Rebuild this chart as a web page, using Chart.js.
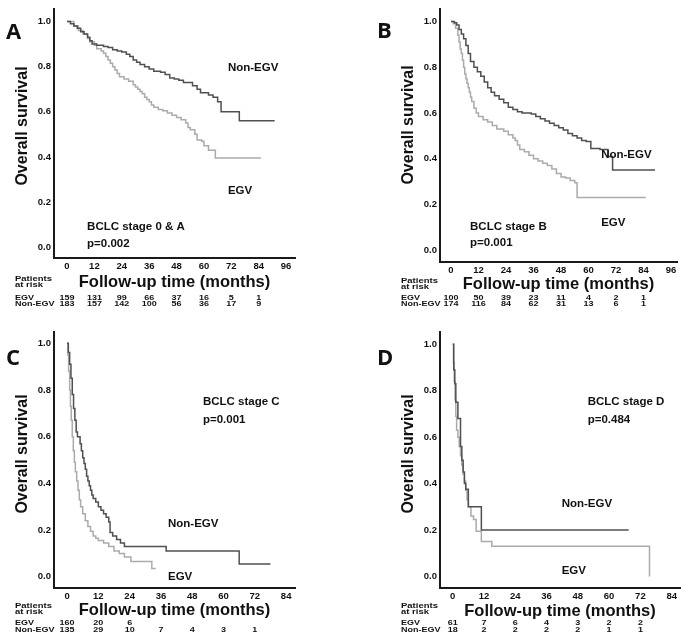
<!DOCTYPE html>
<html>
<head>
<meta charset="utf-8">
<title>Overall survival by BCLC stage</title>
<script src="https://cdn.jsdelivr.net/npm/chart.js@4.4.0/dist/chart.umd.min.js"></script>
<style>
  body { margin: 0; background: #fff; }
  #wrap { position: relative; width: 685px; height: 641px; }
  canvas { position: absolute; }
  #panelA { left: 0; top: 0; }
  #panelB { left: 340px; top: 0; }
  #panelC { left: 0; top: 320px; }
  #panelD { left: 340px; top: 320px; }
</style>
</head>
<body>
<div id="wrap">
  <canvas id="panelA" width="340" height="320"></canvas>
  <canvas id="panelB" width="345" height="320"></canvas>
  <canvas id="panelC" width="340" height="321"></canvas>
  <canvas id="panelD" width="345" height="321"></canvas>
</div>
<script>
'use strict';

// tick labels
let monthTicksAB = [0, 12, 24, 36, 48, 60, 72, 84, 96];
let monthTicksCD = [0, 12, 24, 36, 48, 60, 72, 84];
let survTicks = [0, 0.2, 0.4, 0.6, 0.8, 1.0];

// A - BCLC stage 0 & A
let timeA_non = [0, 1.5, 3, 4.5, 6, 7.5, 9, 10, 11, 13, 16, 18, 20, 22, 24, 26, 27.5, 29, 30.5, 32, 34, 36, 38, 41, 43, 45, 47, 49, 51, 55, 57, 58.5, 62, 64, 66, 67.5, 75.5, 91];
let survA_non = [1, 0.99, 0.98, 0.97, 0.955, 0.945, 0.93, 0.915, 0.9, 0.895, 0.89, 0.885, 0.875, 0.87, 0.865, 0.855, 0.845, 0.83, 0.82, 0.81, 0.80, 0.79, 0.78, 0.775, 0.765, 0.75, 0.745, 0.74, 0.73, 0.715, 0.70, 0.685, 0.675, 0.665, 0.645, 0.60, 0.56, 0.56];
let timeA_egv = [0, 3, 5, 7, 9, 10, 12, 13, 15, 16, 17, 18, 19, 20, 21, 22, 23, 25, 27, 29, 30, 31, 32, 33, 34, 35, 36, 37, 38, 40, 42, 44, 46, 48, 50, 52, 53, 54, 56, 57, 59, 60, 62, 65, 85];
let survA_egv = [1, 0.98, 0.96, 0.945, 0.925, 0.91, 0.895, 0.88, 0.87, 0.86, 0.845, 0.83, 0.815, 0.80, 0.785, 0.77, 0.755, 0.745, 0.735, 0.72, 0.71, 0.70, 0.69, 0.68, 0.665, 0.655, 0.645, 0.63, 0.62, 0.61, 0.605, 0.595, 0.585, 0.575, 0.565, 0.55, 0.53, 0.52, 0.50, 0.475, 0.47, 0.45, 0.43, 0.395, 0.395];
let riskA_egv = [159, 131, 99, 66, 37, 16, 5, 1];
let riskA_non = [183, 157, 142, 100, 56, 36, 17, 9];

// B - BCLC stage B
let timeB_non = [0, 1.5, 2.5, 3.5, 4.5, 5.5, 6.5, 7.5, 8.5, 10, 11.5, 13, 14.5, 16, 17.5, 19, 21, 23, 25, 27, 29, 31, 35, 37, 39, 41, 43, 45, 47, 49, 51, 53, 55, 57, 59, 61, 65, 68.5, 70.5, 89];
let survB_non = [1, 0.995, 0.985, 0.965, 0.945, 0.925, 0.895, 0.86, 0.825, 0.80, 0.78, 0.76, 0.735, 0.71, 0.69, 0.675, 0.66, 0.645, 0.625, 0.615, 0.605, 0.60, 0.595, 0.585, 0.575, 0.565, 0.555, 0.545, 0.535, 0.525, 0.51, 0.50, 0.49, 0.48, 0.475, 0.445, 0.44, 0.41, 0.35, 0.35];
let timeB_egv = [0, 1, 2, 3, 3.5, 4, 4.5, 5, 5.5, 6, 6.5, 7, 7.5, 8, 8.5, 9, 10, 11, 12, 14, 16, 18, 20, 23, 25, 27, 28, 29, 30, 32, 34, 36, 38, 40, 42, 44, 46, 48, 50, 52, 54, 55, 85];
let survB_egv = [1, 0.99, 0.97, 0.94, 0.91, 0.88, 0.86, 0.83, 0.80, 0.77, 0.75, 0.73, 0.71, 0.69, 0.67, 0.65, 0.62, 0.60, 0.585, 0.57, 0.56, 0.545, 0.53, 0.52, 0.505, 0.49, 0.48, 0.46, 0.44, 0.43, 0.415, 0.40, 0.39, 0.38, 0.37, 0.355, 0.335, 0.32, 0.315, 0.305, 0.295, 0.23, 0.23];
let riskB_egv = [100, 50, 39, 23, 11, 4, 2, 1];
let riskB_non = [174, 116, 84, 62, 31, 13, 6, 1];

// C - BCLC stage C
let timeC_non = [0, 0.5, 1, 1.5, 2, 2.5, 3, 3.5, 4, 5, 5.5, 6, 6.5, 7, 7.5, 8, 8.5, 9, 9.5, 10, 11, 12, 13, 14, 15, 16, 16.5, 17.5, 19, 20.5, 22, 38, 66, 78];
let survC_non = [1, 0.96, 0.91, 0.85, 0.78, 0.72, 0.67, 0.62, 0.60, 0.57, 0.54, 0.51, 0.485, 0.46, 0.43, 0.41, 0.39, 0.37, 0.35, 0.335, 0.32, 0.30, 0.285, 0.27, 0.255, 0.235, 0.19, 0.175, 0.16, 0.145, 0.13, 0.11, 0.055, 0.055];
let timeC_egv = [0, 0.3, 0.6, 1, 1.3, 1.6, 2, 2.4, 2.8, 3.2, 3.7, 4.2, 4.7, 5.2, 6, 7, 8, 9, 10, 11, 12, 14, 16, 18, 20, 22, 24.5, 32.5, 34];
let survC_egv = [1, 0.95, 0.88, 0.80, 0.73, 0.67, 0.60, 0.54, 0.49, 0.45, 0.41, 0.37, 0.33, 0.30, 0.27, 0.24, 0.215, 0.195, 0.175, 0.165, 0.155, 0.145, 0.13, 0.11, 0.10, 0.085, 0.065, 0.035, 0.035];
let riskC_egv = [160, 20, 6, null, null, null, null];
let riskC_non = [135, 29, 10, 7, 4, 3, 1];

// D - BCLC stage D
let timeD_non = [0, 0.4, 0.8, 1.2, 2, 3, 3.5, 4, 4.5, 5, 6, 11, 67.5];
let survD_non = [1, 0.89, 0.83, 0.75, 0.68, 0.56, 0.50, 0.45, 0.40, 0.375, 0.30, 0.20, 0.20];
let timeD_egv = [0, 0.3, 0.6, 0.9, 1.2, 1.5, 2, 2.5, 3, 3.5, 4, 4.5, 5, 5.5, 6, 7, 8, 9, 11, 15, 75.5];
let survD_egv = [1, 0.92, 0.84, 0.76, 0.69, 0.63, 0.60, 0.56, 0.52, 0.48, 0.44, 0.41, 0.37, 0.33, 0.30, 0.26, 0.245, 0.195, 0.15, 0.13, 0];
let riskD_egv = [61, 7, 6, 4, 3, 2, 2];
let riskD_non = [18, 2, 2, 2, 2, 1, 1];

let fam = '"Liberation Sans", Arial, sans-serif';
let darkLine = '#505050';
let lightLine = '#ababab';

function toPoints(t, s) {
    let pts = [];
    for (let i = 0; i < t.length; i++) {
        pts.push({ x: t[i], y: s[i] });
    }
    return pts;
}

// text drawn squashed vertically, like the at-risk table in the figure
function squish(ctx, text, x, y, sy) {
    ctx.save();
    ctx.translate(x, y);
    ctx.scale(1, sy);
    ctx.fillText(text, 0, 0);
    ctx.restore();
}

function textPlugin(p) {
    return {
        id: 'panelText',
        afterDraw(chart) {
            let ctx = chart.ctx;
            let xs = chart.scales.x;
            let ys = chart.scales.y;
            ctx.save();
            ctx.fillStyle = '#111';
            ctx.textAlign = 'left';
            ctx.textBaseline = 'alphabetic';
            ctx.font = 'bold 22px "Open Sans", sans-serif';
            ctx.fillText(p.letter, p.letterX, p.letterY);

            // y axis title
            ctx.save();
            ctx.translate(p.yTitle[0], p.yTitle[1]);
            ctx.rotate(-Math.PI / 2);
            ctx.textAlign = 'center';
            ctx.textBaseline = 'middle';
            ctx.font = 'bold 16px ' + fam;
            ctx.fillText('Overall survival', 0, 0);
            ctx.restore();

            ctx.font = 'bold 11.5px ' + fam;
            ctx.textBaseline = 'middle';
            p.notes.forEach(n => {
                ctx.fillText(n.text, xs.getPixelForValue(n.x), ys.getPixelForValue(n.y));
            });

            ctx.font = 'bold 9.5px ' + fam;
            squish(ctx, 'Patients', p.riskX, p.patY[0], 0.7);
            squish(ctx, 'at risk', p.riskX, p.patY[1], 0.7);
            ctx.font = 'bold 9px ' + fam;
            squish(ctx, 'EGV', p.riskX, p.rowY[0], 0.8);
            squish(ctx, 'Non-EGV', p.riskX, p.rowY[1], 0.8);
            ctx.textAlign = 'center';
            for (let i = 0; i < p.ticks.length; i++) {
                let x = xs.getPixelForValue(p.ticks[i]);
                if (p.egv[i] != null) squish(ctx, String(p.egv[i]), x, p.rowY[0], 0.8);
                if (p.non[i] != null) squish(ctx, String(p.non[i]), x, p.rowY[1], 0.8);
            }
            ctx.restore();
        }
    };
}

function renderPanel(p) {
    let ctx = document.getElementById(p.id).getContext('2d');
    return new Chart(ctx, {
        type: 'line',
        data: {
            datasets: [{
                label: 'Non-EGV',
                data: toPoints(p.tNon, p.sNon),
                borderColor: darkLine,
                borderWidth: 1.5,
                stepped: true,
                pointRadius: 0,
                fill: false
            }, {
                label: 'EGV',
                data: toPoints(p.tEgv, p.sEgv),
                borderColor: lightLine,
                borderWidth: 1.5,
                stepped: true,
                pointRadius: 0,
                fill: false
            }]
        },
        options: {
            responsive: false,
            animation: false,
            devicePixelRatio: 1,
            layout: { padding: p.pad },
            plugins: { legend: { display: false }, tooltip: { enabled: false } },
            scales: {
                x: {
                    type: 'linear',
                    min: p.xMin,
                    max: p.xMax,
                    afterBuildTicks: s => { s.ticks = p.ticks.map(v => ({ value: v })); },
                    afterFit: s => { s.height = p.xH; },
                    grid: { display: false, drawTicks: false },
                    border: { display: true, color: '#1a1a1a', width: 2 },
                    ticks: {
                        color: '#111',
                        padding: p.tickPadX,
                        maxRotation: 0,
                        autoSkip: false,
                        font: { family: fam, size: 9.5, weight: 'bold' },
                        callback: v => String(v)
                    },
                    title: {
                        display: true,
                        text: 'Follow-up time (months)',
                        color: '#111',
                        font: { family: fam, size: 16.5, weight: 'bold' },
                        padding: { top: 0, bottom: 0 }
                    }
                },
                y: {
                    type: 'linear',
                    min: p.yMin,
                    max: p.yMax,
                    afterBuildTicks: s => { s.ticks = survTicks.map(v => ({ value: v })); },
                    afterFit: s => { s.width = 44; },
                    grid: { display: false, drawTicks: false },
                    border: { display: true, color: '#1a1a1a', width: 2 },
                    ticks: {
                        color: '#111',
                        padding: 3,
                        font: { family: fam, size: 9.5, weight: 'bold' },
                        callback: v => v.toFixed(1)
                    }
                }
            }
        },
        plugins: [textPlugin(p)]
    });
}

renderPanel({
    id: 'panelA', letter: 'A', letterX: 6, letterY: 39, yTitle: [23, 126],
    tNon: timeA_non, sNon: survA_non, tEgv: timeA_egv, sEgv: survA_egv,
    egv: riskA_egv, non: riskA_non, ticks: monthTicksAB,
    xMin: -5.7, xMax: 99.9, yMin: -0.048, yMax: 1.057,
    pad: { left: 10, right: 45, top: 6, bottom: 27.5 }, xH: 34.5, tickPadX: 3,
    riskX: 15, patY: [279, 285.5], rowY: [298, 304],
    notes: [
        { text: 'Non-EGV', x: 70.5, y: 0.794 },
        { text: 'EGV', x: 70.5, y: 0.25 },
        { text: 'BCLC stage 0 & A', x: 8.8, y: 0.088 },
        { text: 'p=0.002', x: 8.8, y: 0.013 }
    ]
});

renderPanel({
    id: 'panelB', letter: 'B', letterX: 37, letterY: 38, yTitle: [68.5, 125],
    tNon: timeB_non, sNon: survB_non, tEgv: timeB_egv, sEgv: survB_egv,
    egv: riskB_egv, non: riskB_non, ticks: monthTicksAB,
    xMin: -4.8, xMax: 98.6, yMin: -0.052, yMax: 1.056,
    pad: { left: 56, right: 8, top: 6, bottom: 26.1 }, xH: 31.9, tickPadX: 2.5,
    riskX: 61, patY: [281, 287], rowY: [298.5, 304],
    notes: [
        { text: 'Non-EGV', x: 65.5, y: 0.416 },
        { text: 'EGV', x: 65.5, y: 0.121 },
        { text: 'BCLC stage B', x: 8.3, y: 0.104 },
        { text: 'p=0.001', x: 8.3, y: 0.03 }
    ]
});

renderPanel({
    id: 'panelC', letter: 'C', letterX: 6, letterY: 45, yTitle: [23, 134],
    tNon: timeC_non, sNon: survC_non, tEgv: timeC_egv, sEgv: survC_egv,
    egv: riskC_egv, non: riskC_non, ticks: monthTicksCD,
    xMin: -5, xMax: 87.4, yMin: -0.048, yMax: 1.048,
    pad: { left: 10, right: 45, top: 12, bottom: 20.4 }, xH: 32.6, tickPadX: 2.5,
    riskX: 15, patY: [286, 292.5], rowY: [303, 310.5],
    notes: [
        { text: 'BCLC stage C', x: 52.1, y: 0.748 },
        { text: 'p=0.001', x: 52.1, y: 0.671 },
        { text: 'Non-EGV', x: 38.7, y: 0.226 },
        { text: 'EGV', x: 38.7, y: 0.0 }
    ]
});

renderPanel({
    id: 'panelD', letter: 'D', letterX: 37, letterY: 45, yTitle: [68.5, 134],
    tNon: timeD_non, sNon: survD_non, tEgv: timeD_egv, sEgv: survD_egv,
    egv: riskD_egv, non: riskD_non, ticks: monthTicksCD,
    xMin: -4.87, xMax: 87.2, yMin: -0.05, yMax: 1.053,
    pad: { left: 56, right: 5, top: 12, bottom: 20.1 }, xH: 32.9, tickPadX: 2.5,
    riskX: 61, patY: [286, 292], rowY: [303.5, 310],
    notes: [
        { text: 'BCLC stage D', x: 51.8, y: 0.751 },
        { text: 'p=0.484', x: 51.8, y: 0.674 },
        { text: 'Non-EGV', x: 41.8, y: 0.313 },
        { text: 'EGV', x: 41.8, y: 0.026 }
    ]
});
</script>
</body>
</html>
